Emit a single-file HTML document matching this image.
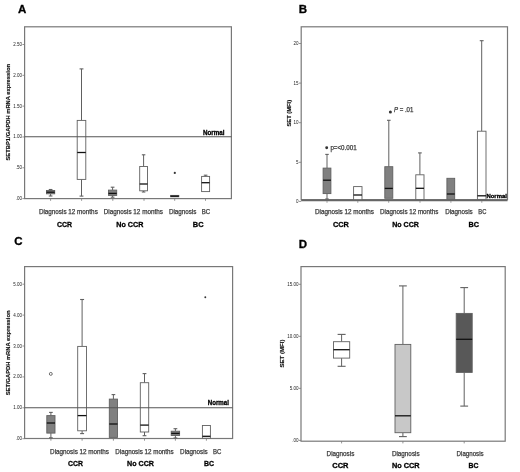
<!DOCTYPE html>
<html><head><meta charset="utf-8"><style>
html,body{margin:0;padding:0;background:#fff;}
svg{display:block;font-family:"Liberation Sans", sans-serif;will-change:transform;}
</style></head><body>
<svg width="520" height="472" viewBox="0 0 520 472">
<rect x="0" y="0" width="520" height="472" fill="#fff"/>
<text x="18.00" y="13.30" font-size="11.5" font-weight="bold" fill="#000" stroke="#000" stroke-width="0.3">A</text>
<rect x="24.60" y="26.80" width="206.80" height="171.80" fill="none" stroke="#787878" stroke-width="1.2"/>
<line x1="22.40" y1="198.60" x2="24.60" y2="198.60" stroke="#787878" stroke-width="0.8"/>
<text x="22.00" y="200.10" font-size="4.5" fill="#222" text-anchor="end">.00</text>
<line x1="22.40" y1="167.78" x2="24.60" y2="167.78" stroke="#787878" stroke-width="0.8"/>
<text x="22.00" y="169.28" font-size="4.5" fill="#222" text-anchor="end">.50</text>
<line x1="22.40" y1="136.96" x2="24.60" y2="136.96" stroke="#787878" stroke-width="0.8"/>
<text x="22.00" y="138.46" font-size="4.5" fill="#222" text-anchor="end">1.00</text>
<line x1="22.40" y1="106.14" x2="24.60" y2="106.14" stroke="#787878" stroke-width="0.8"/>
<text x="22.00" y="107.64" font-size="4.5" fill="#222" text-anchor="end">1.50</text>
<line x1="22.40" y1="75.32" x2="24.60" y2="75.32" stroke="#787878" stroke-width="0.8"/>
<text x="22.00" y="76.82" font-size="4.5" fill="#222" text-anchor="end">2.00</text>
<line x1="22.40" y1="44.50" x2="24.60" y2="44.50" stroke="#787878" stroke-width="0.8"/>
<text x="22.00" y="46.00" font-size="4.5" fill="#222" text-anchor="end">2.50</text>
<text transform="translate(10.40,160.50) rotate(-90)" x="0" y="0" font-size="5.6" font-weight="bold" fill="#111" stroke="#111" stroke-width="0.15" textLength="96.50" lengthAdjust="spacingAndGlyphs">SETBP1/GAPDH mRNA expression</text>
<line x1="50.60" y1="198.60" x2="50.60" y2="200.80" stroke="#787878" stroke-width="0.8"/>
<line x1="81.60" y1="198.60" x2="81.60" y2="200.80" stroke="#787878" stroke-width="0.8"/>
<line x1="112.80" y1="198.60" x2="112.80" y2="200.80" stroke="#787878" stroke-width="0.8"/>
<line x1="144.00" y1="198.60" x2="144.00" y2="200.80" stroke="#787878" stroke-width="0.8"/>
<line x1="174.70" y1="198.60" x2="174.70" y2="200.80" stroke="#787878" stroke-width="0.8"/>
<line x1="205.50" y1="198.60" x2="205.50" y2="200.80" stroke="#787878" stroke-width="0.8"/>
<line x1="50.60" y1="189.50" x2="50.60" y2="190.50" stroke="#606060" stroke-width="1"/>
<line x1="48.76" y1="189.50" x2="52.45" y2="189.50" stroke="#606060" stroke-width="1.1"/>
<line x1="50.60" y1="193.80" x2="50.60" y2="196.00" stroke="#606060" stroke-width="1"/>
<line x1="48.76" y1="196.00" x2="52.45" y2="196.00" stroke="#606060" stroke-width="1.1"/>
<rect x="46.50" y="190.50" width="8.20" height="3.30" fill="#808080" stroke="#606060" stroke-width="0.9"/>
<line x1="46.50" y1="192.20" x2="54.70" y2="192.20" stroke="#111" stroke-width="1.3"/>
<line x1="81.50" y1="68.90" x2="81.50" y2="120.40" stroke="#606060" stroke-width="1"/>
<line x1="79.56" y1="68.90" x2="83.44" y2="68.90" stroke="#606060" stroke-width="1.1"/>
<line x1="81.50" y1="179.40" x2="81.50" y2="196.10" stroke="#606060" stroke-width="1"/>
<line x1="79.56" y1="196.10" x2="83.44" y2="196.10" stroke="#606060" stroke-width="1.1"/>
<rect x="77.20" y="120.40" width="8.60" height="59.00" fill="#fff" stroke="#606060" stroke-width="0.9"/>
<line x1="77.20" y1="152.50" x2="85.80" y2="152.50" stroke="#111" stroke-width="1.3"/>
<line x1="112.60" y1="187.20" x2="112.60" y2="190.10" stroke="#606060" stroke-width="1"/>
<line x1="110.75" y1="187.20" x2="114.44" y2="187.20" stroke="#606060" stroke-width="1.1"/>
<line x1="112.60" y1="195.40" x2="112.60" y2="197.20" stroke="#606060" stroke-width="1"/>
<line x1="110.75" y1="197.20" x2="114.44" y2="197.20" stroke="#606060" stroke-width="1.1"/>
<rect x="108.50" y="190.10" width="8.20" height="5.30" fill="#808080" stroke="#606060" stroke-width="0.9"/>
<line x1="108.50" y1="193.40" x2="116.70" y2="193.40" stroke="#111" stroke-width="1.3"/>
<line x1="143.60" y1="154.80" x2="143.60" y2="166.50" stroke="#606060" stroke-width="1"/>
<line x1="141.84" y1="154.80" x2="145.35" y2="154.80" stroke="#606060" stroke-width="1.1"/>
<line x1="143.60" y1="190.80" x2="143.60" y2="192.00" stroke="#606060" stroke-width="1"/>
<line x1="141.84" y1="192.00" x2="145.35" y2="192.00" stroke="#606060" stroke-width="1.1"/>
<rect x="139.70" y="166.50" width="7.80" height="24.30" fill="#fff" stroke="#606060" stroke-width="0.9"/>
<line x1="139.70" y1="184.00" x2="147.50" y2="184.00" stroke="#111" stroke-width="1.3"/>
<rect x="170.60" y="195.40" width="8.20" height="1.40" fill="#808080" stroke="#606060" stroke-width="0.9"/>
<line x1="170.60" y1="196.20" x2="178.80" y2="196.20" stroke="#111" stroke-width="1.3"/>
<circle cx="174.80" cy="172.90" r="1.1" fill="#333"/>
<line x1="205.60" y1="175.20" x2="205.60" y2="176.40" stroke="#606060" stroke-width="1"/>
<line x1="203.80" y1="175.20" x2="207.40" y2="175.20" stroke="#606060" stroke-width="1.1"/>
<rect x="201.60" y="176.40" width="8.00" height="15.20" fill="#fff" stroke="#606060" stroke-width="0.9"/>
<line x1="201.60" y1="182.70" x2="209.60" y2="182.70" stroke="#111" stroke-width="1.3"/>
<line x1="24.60" y1="136.70" x2="231.40" y2="136.70" stroke="#555" stroke-width="1.1"/>
<text x="203.00" y="135.30" font-size="6.5" font-weight="bold" fill="#000" stroke="#000" stroke-width="0.3" textLength="21.60" lengthAdjust="spacingAndGlyphs">Normal</text>
<text x="38.90" y="213.80" font-size="6.3" fill="#3c3c3c" stroke="#3c3c3c" stroke-width="0.25" textLength="58.90" lengthAdjust="spacingAndGlyphs">Diagnosis 12 months</text>
<text x="103.80" y="213.80" font-size="6.3" fill="#3c3c3c" stroke="#3c3c3c" stroke-width="0.25" textLength="59.10" lengthAdjust="spacingAndGlyphs">Diagnosis 12 months</text>
<text x="168.90" y="213.80" font-size="6.3" fill="#3c3c3c" stroke="#3c3c3c" stroke-width="0.25" textLength="27.50" lengthAdjust="spacingAndGlyphs">Diagnosis</text>
<text x="201.70" y="213.80" font-size="6.3" fill="#3c3c3c" stroke="#3c3c3c" stroke-width="0.25" textLength="8.50" lengthAdjust="spacingAndGlyphs">BC</text>
<text x="57.00" y="226.50" font-size="7.6" font-weight="bold" fill="#000" stroke="#000" stroke-width="0.3" textLength="15.00" lengthAdjust="spacingAndGlyphs">CCR</text>
<text x="116.30" y="226.50" font-size="7.6" font-weight="bold" fill="#000" stroke="#000" stroke-width="0.3" textLength="27.10" lengthAdjust="spacingAndGlyphs">No CCR</text>
<text x="192.80" y="226.50" font-size="7.6" font-weight="bold" fill="#000" stroke="#000" stroke-width="0.3" textLength="10.70" lengthAdjust="spacingAndGlyphs">BC</text>
<text x="298.80" y="13.30" font-size="11.5" font-weight="bold" fill="#000" stroke="#000" stroke-width="0.3">B</text>
<rect x="301.20" y="26.80" width="206.30" height="172.80" fill="none" stroke="#787878" stroke-width="1.2"/>
<line x1="299.00" y1="201.40" x2="301.20" y2="201.40" stroke="#787878" stroke-width="0.8"/>
<text x="298.60" y="202.90" font-size="4.5" fill="#222" text-anchor="end">0</text>
<line x1="299.00" y1="162.30" x2="301.20" y2="162.30" stroke="#787878" stroke-width="0.8"/>
<text x="298.60" y="163.80" font-size="4.5" fill="#222" text-anchor="end">5</text>
<line x1="299.00" y1="122.70" x2="301.20" y2="122.70" stroke="#787878" stroke-width="0.8"/>
<text x="298.60" y="124.20" font-size="4.5" fill="#222" text-anchor="end">10</text>
<line x1="299.00" y1="83.10" x2="301.20" y2="83.10" stroke="#787878" stroke-width="0.8"/>
<text x="298.60" y="84.60" font-size="4.5" fill="#222" text-anchor="end">15</text>
<line x1="299.00" y1="43.50" x2="301.20" y2="43.50" stroke="#787878" stroke-width="0.8"/>
<text x="298.60" y="45.00" font-size="4.5" fill="#222" text-anchor="end">20</text>
<text transform="translate(290.80,126.50) rotate(-90)" x="0" y="0" font-size="5.6" font-weight="bold" fill="#111" stroke="#111" stroke-width="0.15" textLength="26.60" lengthAdjust="spacingAndGlyphs">SET (MFI)</text>
<line x1="327.00" y1="154.40" x2="327.00" y2="168.10" stroke="#606060" stroke-width="1"/>
<line x1="325.25" y1="154.40" x2="328.75" y2="154.40" stroke="#606060" stroke-width="1.1"/>
<line x1="327.00" y1="193.60" x2="327.00" y2="199.00" stroke="#606060" stroke-width="1"/>
<line x1="325.25" y1="199.00" x2="328.75" y2="199.00" stroke="#606060" stroke-width="1.1"/>
<rect x="323.10" y="168.10" width="7.80" height="25.50" fill="#808080" stroke="#606060" stroke-width="0.9"/>
<line x1="323.10" y1="180.20" x2="330.90" y2="180.20" stroke="#111" stroke-width="1.3"/>
<rect x="353.60" y="186.60" width="8.40" height="13.20" fill="#fff" stroke="#606060" stroke-width="0.9"/>
<line x1="353.60" y1="195.00" x2="362.00" y2="195.00" stroke="#111" stroke-width="1.3"/>
<line x1="388.80" y1="120.30" x2="388.80" y2="166.70" stroke="#606060" stroke-width="1"/>
<line x1="387.00" y1="120.30" x2="390.60" y2="120.30" stroke="#606060" stroke-width="1.1"/>
<rect x="384.80" y="166.70" width="8.00" height="31.60" fill="#808080" stroke="#606060" stroke-width="0.9"/>
<line x1="384.80" y1="188.40" x2="392.80" y2="188.40" stroke="#111" stroke-width="1.3"/>
<line x1="419.90" y1="152.90" x2="419.90" y2="174.80" stroke="#606060" stroke-width="1"/>
<line x1="418.05" y1="152.90" x2="421.75" y2="152.90" stroke="#606060" stroke-width="1.1"/>
<rect x="415.80" y="174.80" width="8.20" height="24.80" fill="#fff" stroke="#606060" stroke-width="0.9"/>
<line x1="415.80" y1="188.30" x2="424.00" y2="188.30" stroke="#111" stroke-width="1.3"/>
<rect x="446.90" y="178.30" width="7.80" height="21.10" fill="#808080" stroke="#606060" stroke-width="0.9"/>
<line x1="446.90" y1="194.00" x2="454.70" y2="194.00" stroke="#111" stroke-width="1.3"/>
<line x1="481.70" y1="40.70" x2="481.70" y2="131.20" stroke="#606060" stroke-width="1"/>
<line x1="479.76" y1="40.70" x2="483.63" y2="40.70" stroke="#606060" stroke-width="1.1"/>
<rect x="477.40" y="131.20" width="8.60" height="68.20" fill="#fff" stroke="#606060" stroke-width="0.9"/>
<line x1="477.40" y1="195.80" x2="486.00" y2="195.80" stroke="#111" stroke-width="1.3"/>
<line x1="327.00" y1="201.20" x2="327.00" y2="202.70" stroke="#787878" stroke-width="0.8"/>
<line x1="357.80" y1="201.20" x2="357.80" y2="202.70" stroke="#787878" stroke-width="0.8"/>
<line x1="388.70" y1="201.20" x2="388.70" y2="202.70" stroke="#787878" stroke-width="0.8"/>
<line x1="420.00" y1="201.20" x2="420.00" y2="202.70" stroke="#787878" stroke-width="0.8"/>
<line x1="450.90" y1="201.20" x2="450.90" y2="202.70" stroke="#787878" stroke-width="0.8"/>
<line x1="481.80" y1="201.20" x2="481.80" y2="202.70" stroke="#787878" stroke-width="0.8"/>
<line x1="301.20" y1="200.30" x2="507.50" y2="200.30" stroke="#666" stroke-width="1.8"/>
<circle cx="326.70" cy="147.70" r="1.45" fill="#333"/>
<text x="330.40" y="150.30" font-size="6.3" fill="#3c3c3c" stroke="#3c3c3c" stroke-width="0.25" textLength="26.30" lengthAdjust="spacingAndGlyphs">p=&lt;0.001</text>
<circle cx="390.40" cy="112.00" r="1.5" fill="#333"/>
<text x="393.90" y="111.80" font-size="6.3" fill="#3c3c3c" stroke="#3c3c3c" stroke-width="0.25" textLength="19.50" lengthAdjust="spacingAndGlyphs"><tspan font-style="italic">P</tspan> = .01</text>
<text x="486.40" y="197.60" font-size="6.0" font-weight="bold" fill="#000" stroke="#000" stroke-width="0.3" textLength="20.50" lengthAdjust="spacingAndGlyphs">Normal</text>
<text x="315.00" y="213.80" font-size="6.3" fill="#3c3c3c" stroke="#3c3c3c" stroke-width="0.25" textLength="58.90" lengthAdjust="spacingAndGlyphs">Diagnosis 12 months</text>
<text x="380.10" y="213.80" font-size="6.3" fill="#3c3c3c" stroke="#3c3c3c" stroke-width="0.25" textLength="58.30" lengthAdjust="spacingAndGlyphs">Diagnosis 12 months</text>
<text x="445.20" y="213.80" font-size="6.3" fill="#3c3c3c" stroke="#3c3c3c" stroke-width="0.25" textLength="27.50" lengthAdjust="spacingAndGlyphs">Diagnosis</text>
<text x="478.30" y="213.80" font-size="6.3" fill="#3c3c3c" stroke="#3c3c3c" stroke-width="0.25" textLength="8.10" lengthAdjust="spacingAndGlyphs">BC</text>
<text x="333.00" y="226.50" font-size="7.6" font-weight="bold" fill="#000" stroke="#000" stroke-width="0.3" textLength="15.90" lengthAdjust="spacingAndGlyphs">CCR</text>
<text x="392.20" y="226.50" font-size="7.6" font-weight="bold" fill="#000" stroke="#000" stroke-width="0.3" textLength="26.70" lengthAdjust="spacingAndGlyphs">No CCR</text>
<text x="468.50" y="226.50" font-size="7.6" font-weight="bold" fill="#000" stroke="#000" stroke-width="0.3" textLength="10.50" lengthAdjust="spacingAndGlyphs">BC</text>
<text x="14.20" y="245.20" font-size="11.5" font-weight="bold" fill="#000" stroke="#000" stroke-width="0.3">C</text>
<rect x="24.60" y="266.60" width="208.00" height="171.90" fill="none" stroke="#787878" stroke-width="1.2"/>
<line x1="22.40" y1="438.70" x2="24.60" y2="438.70" stroke="#787878" stroke-width="0.8"/>
<text x="22.00" y="440.20" font-size="4.5" fill="#222" text-anchor="end">.00</text>
<line x1="22.40" y1="407.80" x2="24.60" y2="407.80" stroke="#787878" stroke-width="0.8"/>
<text x="22.00" y="409.30" font-size="4.5" fill="#222" text-anchor="end">1.00</text>
<line x1="22.40" y1="376.90" x2="24.60" y2="376.90" stroke="#787878" stroke-width="0.8"/>
<text x="22.00" y="378.40" font-size="4.5" fill="#222" text-anchor="end">2.00</text>
<line x1="22.40" y1="346.00" x2="24.60" y2="346.00" stroke="#787878" stroke-width="0.8"/>
<text x="22.00" y="347.50" font-size="4.5" fill="#222" text-anchor="end">3.00</text>
<line x1="22.40" y1="315.10" x2="24.60" y2="315.10" stroke="#787878" stroke-width="0.8"/>
<text x="22.00" y="316.60" font-size="4.5" fill="#222" text-anchor="end">4.00</text>
<line x1="22.40" y1="284.20" x2="24.60" y2="284.20" stroke="#787878" stroke-width="0.8"/>
<text x="22.00" y="285.70" font-size="4.5" fill="#222" text-anchor="end">5.00</text>
<text transform="translate(10.40,395.30) rotate(-90)" x="0" y="0" font-size="5.6" font-weight="bold" fill="#111" stroke="#111" stroke-width="0.15" textLength="84.80" lengthAdjust="spacingAndGlyphs">SET/GAPDH mRNA expression</text>
<line x1="50.90" y1="438.50" x2="50.90" y2="440.70" stroke="#787878" stroke-width="0.8"/>
<line x1="82.10" y1="438.50" x2="82.10" y2="440.70" stroke="#787878" stroke-width="0.8"/>
<line x1="113.40" y1="438.50" x2="113.40" y2="440.70" stroke="#787878" stroke-width="0.8"/>
<line x1="144.50" y1="438.50" x2="144.50" y2="440.70" stroke="#787878" stroke-width="0.8"/>
<line x1="175.40" y1="438.50" x2="175.40" y2="440.70" stroke="#787878" stroke-width="0.8"/>
<line x1="206.40" y1="438.50" x2="206.40" y2="440.70" stroke="#787878" stroke-width="0.8"/>
<line x1="50.90" y1="412.40" x2="50.90" y2="415.60" stroke="#606060" stroke-width="1"/>
<line x1="49.05" y1="412.40" x2="52.74" y2="412.40" stroke="#606060" stroke-width="1.1"/>
<line x1="50.90" y1="433.10" x2="50.90" y2="437.80" stroke="#606060" stroke-width="1"/>
<line x1="49.05" y1="437.80" x2="52.74" y2="437.80" stroke="#606060" stroke-width="1.1"/>
<rect x="46.80" y="415.60" width="8.20" height="17.50" fill="#808080" stroke="#606060" stroke-width="0.9"/>
<line x1="46.80" y1="423.00" x2="55.00" y2="423.00" stroke="#111" stroke-width="1.3"/>
<circle cx="50.8" cy="373.9" r="1.45" fill="none" stroke="#555" stroke-width="0.85"/>
<line x1="82.10" y1="299.50" x2="82.10" y2="346.40" stroke="#606060" stroke-width="1"/>
<line x1="80.12" y1="299.50" x2="84.08" y2="299.50" stroke="#606060" stroke-width="1.1"/>
<line x1="82.10" y1="430.80" x2="82.10" y2="433.60" stroke="#606060" stroke-width="1"/>
<line x1="80.12" y1="433.60" x2="84.08" y2="433.60" stroke="#606060" stroke-width="1.1"/>
<rect x="77.70" y="346.40" width="8.80" height="84.40" fill="#fff" stroke="#606060" stroke-width="0.9"/>
<line x1="77.70" y1="415.60" x2="86.50" y2="415.60" stroke="#111" stroke-width="1.3"/>
<line x1="113.40" y1="394.60" x2="113.40" y2="399.10" stroke="#606060" stroke-width="1"/>
<line x1="111.56" y1="394.60" x2="115.25" y2="394.60" stroke="#606060" stroke-width="1.1"/>
<rect x="109.30" y="399.10" width="8.20" height="38.30" fill="#808080" stroke="#606060" stroke-width="0.9"/>
<line x1="109.30" y1="424.00" x2="117.50" y2="424.00" stroke="#111" stroke-width="1.3"/>
<line x1="144.50" y1="373.60" x2="144.50" y2="382.70" stroke="#606060" stroke-width="1"/>
<line x1="142.61" y1="373.60" x2="146.39" y2="373.60" stroke="#606060" stroke-width="1.1"/>
<line x1="144.50" y1="432.00" x2="144.50" y2="435.70" stroke="#606060" stroke-width="1"/>
<line x1="142.61" y1="435.70" x2="146.39" y2="435.70" stroke="#606060" stroke-width="1.1"/>
<rect x="140.30" y="382.70" width="8.40" height="49.30" fill="#fff" stroke="#606060" stroke-width="0.9"/>
<line x1="140.30" y1="425.10" x2="148.70" y2="425.10" stroke="#111" stroke-width="1.3"/>
<line x1="175.40" y1="428.70" x2="175.40" y2="431.20" stroke="#606060" stroke-width="1"/>
<line x1="173.51" y1="428.70" x2="177.29" y2="428.70" stroke="#606060" stroke-width="1.1"/>
<line x1="175.40" y1="435.50" x2="175.40" y2="438.00" stroke="#606060" stroke-width="1"/>
<line x1="173.51" y1="438.00" x2="177.29" y2="438.00" stroke="#606060" stroke-width="1.1"/>
<rect x="171.20" y="431.20" width="8.40" height="4.30" fill="#808080" stroke="#606060" stroke-width="0.9"/>
<line x1="171.20" y1="433.40" x2="179.60" y2="433.40" stroke="#111" stroke-width="1.3"/>
<rect x="202.40" y="425.50" width="8.00" height="12.70" fill="#fff" stroke="#606060" stroke-width="0.9"/>
<line x1="202.40" y1="436.30" x2="210.40" y2="436.30" stroke="#111" stroke-width="1.3"/>
<circle cx="205.30" cy="297.30" r="0.95" fill="#333"/>
<line x1="24.60" y1="407.70" x2="232.60" y2="407.70" stroke="#555" stroke-width="1.1"/>
<text x="207.70" y="404.50" font-size="6.5" font-weight="bold" fill="#000" stroke="#000" stroke-width="0.3" textLength="21.20" lengthAdjust="spacingAndGlyphs">Normal</text>
<text x="50.10" y="453.60" font-size="6.3" fill="#3c3c3c" stroke="#3c3c3c" stroke-width="0.25" textLength="58.90" lengthAdjust="spacingAndGlyphs">Diagnosis 12 months</text>
<text x="115.30" y="453.60" font-size="6.3" fill="#3c3c3c" stroke="#3c3c3c" stroke-width="0.25" textLength="58.40" lengthAdjust="spacingAndGlyphs">Diagnosis 12 months</text>
<text x="180.10" y="453.60" font-size="6.3" fill="#3c3c3c" stroke="#3c3c3c" stroke-width="0.25" textLength="27.60" lengthAdjust="spacingAndGlyphs">Diagnosis</text>
<text x="213.00" y="453.60" font-size="6.3" fill="#3c3c3c" stroke="#3c3c3c" stroke-width="0.25" textLength="8.40" lengthAdjust="spacingAndGlyphs">BC</text>
<text x="68.10" y="466.40" font-size="7.6" font-weight="bold" fill="#000" stroke="#000" stroke-width="0.3" textLength="14.90" lengthAdjust="spacingAndGlyphs">CCR</text>
<text x="127.10" y="466.40" font-size="7.6" font-weight="bold" fill="#000" stroke="#000" stroke-width="0.3" textLength="26.90" lengthAdjust="spacingAndGlyphs">No CCR</text>
<text x="204.00" y="466.40" font-size="7.6" font-weight="bold" fill="#000" stroke="#000" stroke-width="0.3" textLength="10.00" lengthAdjust="spacingAndGlyphs">BC</text>
<text x="298.80" y="248.30" font-size="11.5" font-weight="bold" fill="#000" stroke="#000" stroke-width="0.3">D</text>
<rect x="301.00" y="266.60" width="204.20" height="174.60" fill="none" stroke="#787878" stroke-width="1.2"/>
<line x1="298.80" y1="440.40" x2="301.00" y2="440.40" stroke="#787878" stroke-width="0.8"/>
<text x="298.40" y="441.90" font-size="4.5" fill="#222" text-anchor="end">.00</text>
<line x1="298.80" y1="388.37" x2="301.00" y2="388.37" stroke="#787878" stroke-width="0.8"/>
<text x="298.40" y="389.87" font-size="4.5" fill="#222" text-anchor="end">5.00</text>
<line x1="298.80" y1="336.33" x2="301.00" y2="336.33" stroke="#787878" stroke-width="0.8"/>
<text x="298.40" y="337.83" font-size="4.5" fill="#222" text-anchor="end">10.00</text>
<line x1="298.80" y1="284.30" x2="301.00" y2="284.30" stroke="#787878" stroke-width="0.8"/>
<text x="298.40" y="285.80" font-size="4.5" fill="#222" text-anchor="end">15.00</text>
<text transform="translate(284.30,367.60) rotate(-90)" x="0" y="0" font-size="5.6" font-weight="bold" fill="#111" stroke="#111" stroke-width="0.15" textLength="28.10" lengthAdjust="spacingAndGlyphs">SET (MFI)</text>
<line x1="341.60" y1="441.20" x2="341.60" y2="443.40" stroke="#787878" stroke-width="0.8"/>
<line x1="402.90" y1="441.20" x2="402.90" y2="443.40" stroke="#787878" stroke-width="0.8"/>
<line x1="464.20" y1="441.20" x2="464.20" y2="443.40" stroke="#787878" stroke-width="0.8"/>
<line x1="341.60" y1="334.40" x2="341.60" y2="341.70" stroke="#606060" stroke-width="1"/>
<line x1="337.60" y1="334.40" x2="345.60" y2="334.40" stroke="#606060" stroke-width="1.1"/>
<line x1="341.60" y1="358.10" x2="341.60" y2="366.30" stroke="#606060" stroke-width="1"/>
<line x1="337.60" y1="366.30" x2="345.60" y2="366.30" stroke="#606060" stroke-width="1.1"/>
<rect x="333.50" y="341.70" width="16.20" height="16.40" fill="#fff" stroke="#606060" stroke-width="0.9"/>
<line x1="333.50" y1="349.70" x2="349.70" y2="349.70" stroke="#111" stroke-width="1.3"/>
<line x1="402.90" y1="285.90" x2="402.90" y2="344.40" stroke="#606060" stroke-width="1"/>
<line x1="399.00" y1="285.90" x2="406.80" y2="285.90" stroke="#606060" stroke-width="1.1"/>
<line x1="402.90" y1="432.70" x2="402.90" y2="436.60" stroke="#606060" stroke-width="1"/>
<line x1="399.00" y1="436.60" x2="406.80" y2="436.60" stroke="#606060" stroke-width="1.1"/>
<rect x="395.00" y="344.40" width="15.80" height="88.30" fill="#c8c8c8" stroke="#606060" stroke-width="0.9"/>
<line x1="395.00" y1="415.80" x2="410.80" y2="415.80" stroke="#111" stroke-width="1.3"/>
<line x1="464.20" y1="287.60" x2="464.20" y2="313.40" stroke="#606060" stroke-width="1"/>
<line x1="460.30" y1="287.60" x2="468.10" y2="287.60" stroke="#606060" stroke-width="1.1"/>
<line x1="464.20" y1="372.40" x2="464.20" y2="406.10" stroke="#606060" stroke-width="1"/>
<line x1="460.30" y1="406.10" x2="468.10" y2="406.10" stroke="#606060" stroke-width="1.1"/>
<rect x="456.20" y="313.40" width="16.00" height="59.00" fill="#585858" stroke="#606060" stroke-width="0.9"/>
<line x1="456.20" y1="339.30" x2="472.20" y2="339.30" stroke="#111" stroke-width="1.3"/>
<text x="326.60" y="456.30" font-size="6.3" fill="#3c3c3c" stroke="#3c3c3c" stroke-width="0.25" textLength="27.70" lengthAdjust="spacingAndGlyphs">Diagnosis</text>
<text x="391.90" y="456.30" font-size="6.3" fill="#3c3c3c" stroke="#3c3c3c" stroke-width="0.25" textLength="27.70" lengthAdjust="spacingAndGlyphs">Diagnosis</text>
<text x="456.60" y="456.30" font-size="6.3" fill="#3c3c3c" stroke="#3c3c3c" stroke-width="0.25" textLength="27.00" lengthAdjust="spacingAndGlyphs">Diagnosis</text>
<text x="332.30" y="468.40" font-size="7.8" font-weight="bold" fill="#000" stroke="#000" stroke-width="0.3" textLength="16.20" lengthAdjust="spacingAndGlyphs">CCR</text>
<text x="391.90" y="468.40" font-size="7.8" font-weight="bold" fill="#000" stroke="#000" stroke-width="0.3" textLength="27.70" lengthAdjust="spacingAndGlyphs">No CCR</text>
<text x="468.60" y="468.40" font-size="7.8" font-weight="bold" fill="#000" stroke="#000" stroke-width="0.3" textLength="9.90" lengthAdjust="spacingAndGlyphs">BC</text>
</svg>
</body></html>
